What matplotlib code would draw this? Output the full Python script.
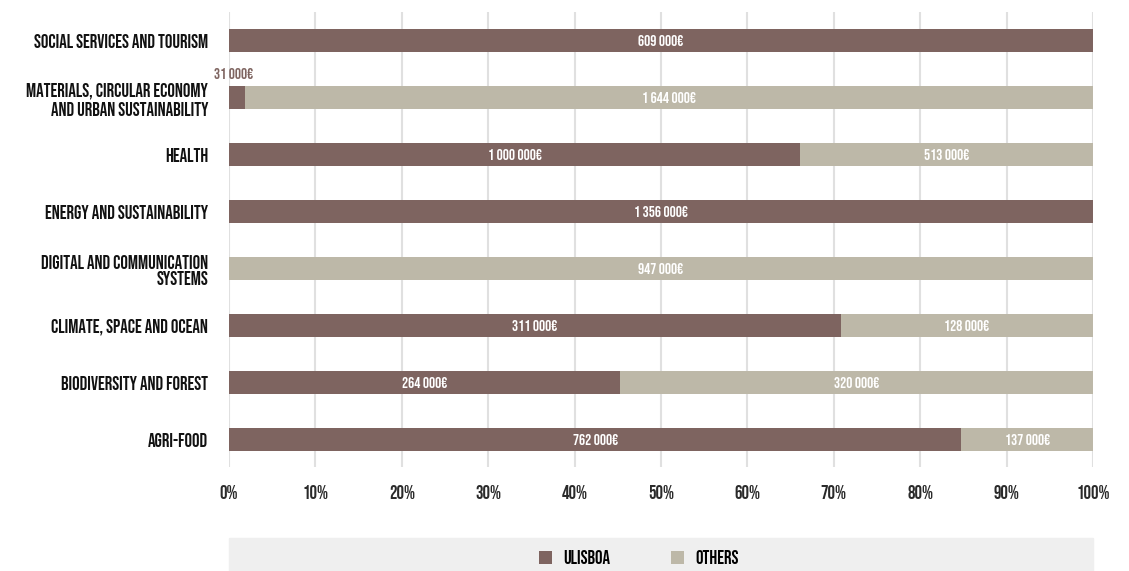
import matplotlib.pyplot as plt
from matplotlib import font_manager
from matplotlib.patches import Rectangle

# data, bottom row first
categories = ['AGRI-FOOD', 'BIODIVERSITY AND FOREST', 'CLIMATE, SPACE AND OCEAN',
              'DIGITAL AND COMMUNICATION\nSYSTEMS', 'ENERGY AND SUSTAINABILITY',
              'HEALTH', 'MATERIALS, CIRCULAR ECONOMY\nAND URBAN SUSTAINABILITY',
              'SOCIAL SERVICES AND TOURISM']
ulisboa = [762000, 264000, 311000, 0, 1356000, 1000000, 31000, 609000]
others = [137000, 320000, 128000, 947000, 0, 513000, 1644000, 0]
ticks = [0, 10, 20, 30, 40, 50, 60, 70, 80, 90, 100]

BROWN = '#7e6460'
BEIGE = '#bdb8a8'

# pick a condensed font if one is there
available = set(f.name for f in font_manager.fontManager.ttflist)
font = 'DejaVu Sans'
for name in ['Bebas Neue', 'Oswald', 'IBM Plex Sans Condensed', 'Open Sans Condensed']:
    if name in available:
        font = name
        break
plt.rcParams['font.family'] = [font, 'DejaVu Sans']


def euro(v):
    return '{:,}€'.format(v).replace(',', ' ')


fig = plt.figure(figsize=(11.29, 5.71), dpi=100)
ax = fig.add_axes([229 / 1129, 104 / 571, 864 / 1129, 455 / 571])

totals = [u + o for u, o in zip(ulisboa, others)]
pu = [100 * u / t for u, t in zip(ulisboa, totals)]
po = [100 * o / t for o, t in zip(others, totals)]
y = list(range(len(categories)))

ax.barh(y, pu, height=0.4, color=BROWN, label='ULISBOA', zorder=3)
ax.barh(y, po, left=pu, height=0.4, color=BEIGE, label='OTHERS', zorder=3)

for i in y:
    if ulisboa[i] > 0:
        cx = pu[i] / 2
        if pu[i] < 5:
            ax.text(cx - 0.4, i + 0.33, euro(ulisboa[i]), ha='center', va='bottom',
                    color=BROWN, fontsize=11)
        else:
            ax.text(cx, i, euro(ulisboa[i]), ha='center', va='center',
                    color='white', fontsize=11, zorder=4)
    if others[i] > 0:
        cx = pu[i] + po[i] / 2
        ax.text(cx, i, euro(others[i]), ha='center', va='center',
                color='white', fontsize=11, zorder=4)

ax.set_xlim(0, 100)
ax.set_ylim(-0.48, 7.5)
ax.set_xticks(ticks)
ax.set_xticklabels([str(t) + '%' for t in ticks], fontsize=13.5, color='#2a2a2a')
ax.set_yticks(y)
ax.set_yticklabels(categories, fontsize=13.5, color='#111111', linespacing=1.2)
ax.tick_params(axis='both', length=0)
ax.tick_params(axis='x', pad=13)
ax.tick_params(axis='y', pad=15)
ax.grid(axis='x', color='#e0e0e0', linewidth=1.5, zorder=0)
ax.set_axisbelow(True)
for s in ax.spines.values():
    s.set_visible(False)

# legend box
fig.patches.append(Rectangle((229 / 1129, 0), 864 / 1129, 33 / 571,
                             transform=fig.transFigure, color='#efefef', zorder=0))
fig.legend(loc='center', bbox_to_anchor=(639 / 1129, 14 / 571), ncol=2,
           frameon=False, fontsize=13.5, handlelength=0.7, handleheight=0.7,
           handletextpad=0.6, columnspacing=3.25)

plt.savefig('out.png', dpi=100)
